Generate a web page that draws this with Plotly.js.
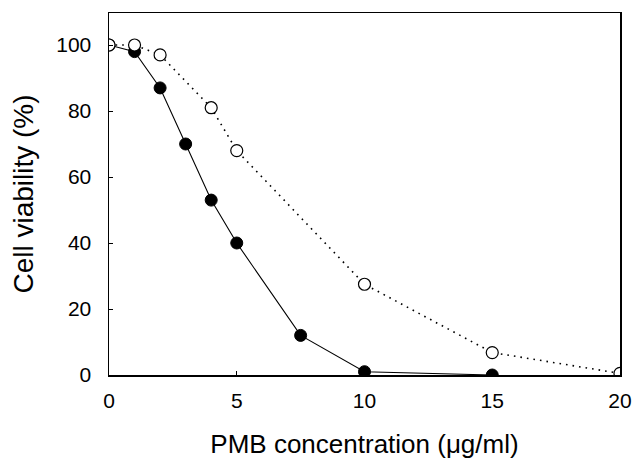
<!DOCTYPE html>
<html><head><meta charset="utf-8">
<script src="https://cdn.plot.ly/plotly-3.0.1.min.js"></script>
<style>html,body{margin:0;padding:0;background:#fff}#chart{width:635px;height:464px}</style>
</head><body><div id="chart"></div>
<script>
const filledX = [0, 1, 2, 3, 4, 5, 7.5, 10, 15];
const filledY = [100, 98, 87, 70, 53, 40, 12, 1, 0];
const openX = [0, 1, 2, 4, 5, 10, 15, 20];
const openY = [100, 100, 97, 81, 68, 27.5, 6.8, 0.5];
const xTicks = [0, 5, 10, 15, 20];
const yTicks = [0, 20, 40, 60, 80, 100];

const traces = [
  {x: filledX, y: filledY, mode: 'lines+markers', type: 'scatter',
   line: {color: '#000', width: 1.1},
   marker: {symbol: 'circle', size: 12, color: '#000', line: {color: '#000', width: 1}}},
  {x: openX, y: openY, mode: 'lines+markers', type: 'scatter',
   line: {color: '#000', width: 1.6, dash: '1.6px,5px'},
   marker: {symbol: 'circle', size: 12, color: '#fff', line: {color: '#000', width: 1.2}}}
];
const font = {family: 'Liberation Sans, Arial, sans-serif', color: '#000'};
const layout = {
  width: 635, height: 464, showlegend: false,
  paper_bgcolor: '#fff', plot_bgcolor: '#fff',
  margin: {l: 109, r: 15, t: 13, b: 89},
  font: font,
  xaxis: {range: [0, 20], tickvals: xTicks, ticks: 'inside', ticklen: 4, tickcolor: '#000',
    showline: true, linecolor: '#000', linewidth: 1.5, mirror: true, showgrid: false, zeroline: false,
    tickfont: {size: 21, family: font.family, color: '#000'}, ticklabelstandoff: 6,
    title: {text: 'PMB concentration (μg/ml)', font: {size: 26, family: font.family, color: '#000'}, standoff: 24}},
  yaxis: {range: [0, 109.7], tickvals: yTicks, ticks: 'inside', ticklen: 4, tickcolor: '#000',
    showline: true, linecolor: '#000', linewidth: 1.5, mirror: true, showgrid: false, zeroline: false,
    tickfont: {size: 21, family: font.family, color: '#000'}, ticklabelstandoff: 12,
    title: {text: 'Cell viability (%)', font: {size: 28, family: font.family, color: '#000'}, standoff: 14}}
};
Plotly.newPlot('chart', traces, layout, {displayModeBar: false, staticPlot: true});
</script></body></html>
